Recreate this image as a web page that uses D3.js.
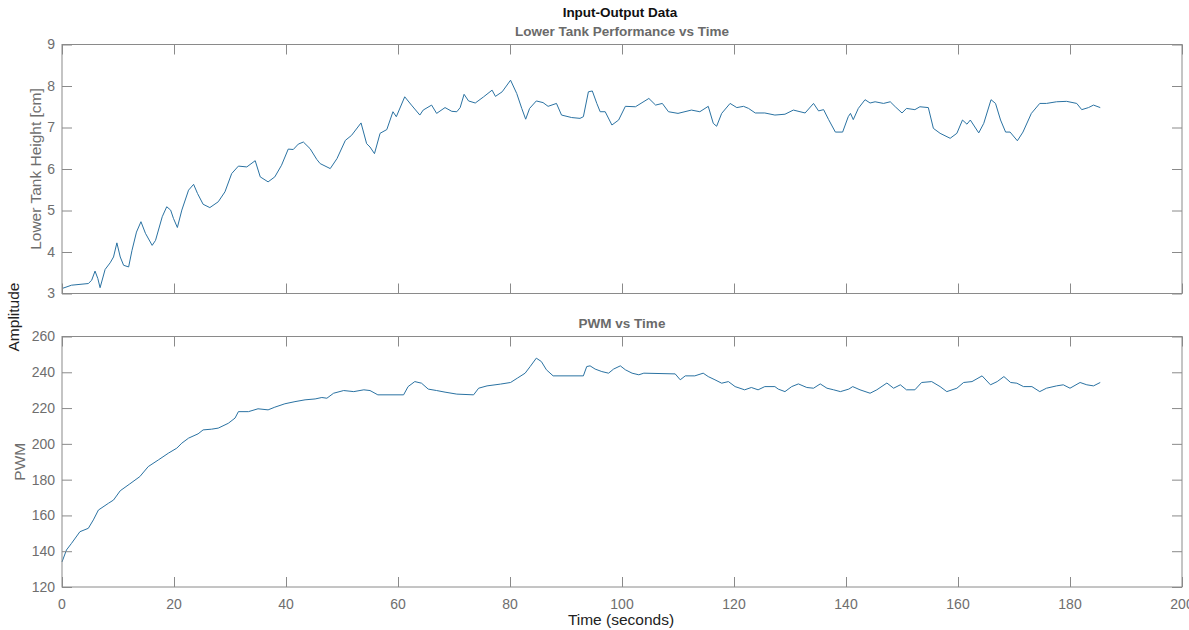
<!DOCTYPE html>
<html>
<head>
<meta charset="utf-8">
<script src="https://cdn.jsdelivr.net/npm/d3@7"></script>
<style>
  html, body { margin: 0; padding: 0; background: #fff; }
  svg { display: block; font-family: "Liberation Sans", Arial, Helvetica, sans-serif; }
</style>
</head>
<body>
<svg id="chart" width="1189" height="630"></svg>
<script>
// Lower tank level recording (seconds, cm)
const levelTime = [0,1.7,4.7,5.3,5.9,6.4,6.8,7.7,8.6,9.2,9.8,10.4,11.0,11.9,12.5,13.3,14.1,14.9,16.1,16.7,17.9,18.7,19.4,19.9,20.6,21.4,22.6,23.5,24.2,25.2,26.4,27.9,29.1,30.3,31.5,33.0,34.5,35.4,36.8,38.0,39.2,40.4,41.3,42.2,43.1,44.3,45.5,46.1,47.9,49.1,50.6,51.7,53.4,54.4,55.0,55.8,56.8,58.0,59.1,59.7,61.2,62.4,63.9,64.5,66.0,66.9,68.4,69.6,70.5,71.1,71.8,72.6,73.8,75.3,76.8,77.4,78.6,80.1,81.2,82.1,82.8,83.5,84.7,85.9,86.8,88.3,89.2,91.0,92.5,93.1,94.0,94.7,95.5,96.1,97.0,98.2,99.4,100.6,102.4,104.8,106.0,107.2,108.3,110.0,112.4,113.9,115.4,116.3,116.9,117.8,119.3,120.5,121.7,122.6,123.8,125.5,127.3,129.1,130.6,132.7,134.2,135.1,136.0,136.9,138.1,139.4,140.4,140.8,141.3,142.2,143.4,144.3,145.2,146.7,147.9,148.8,150.0,150.8,152.3,153.2,154.7,155.6,156.8,158.6,159.8,160.8,161.6,162.2,163.7,164.6,165.9,166.7,167.6,168.5,169.3,170.6,171.6,173.1,174.6,175.8,177.6,179.4,181.2,182.1,183.3,184.2,185.4];
const levelCm = [3.12,3.20,3.24,3.32,3.54,3.36,3.14,3.58,3.74,3.88,4.22,3.88,3.68,3.64,4.04,4.48,4.73,4.45,4.16,4.28,4.85,5.09,5.01,4.81,4.59,5.01,5.49,5.63,5.41,5.15,5.07,5.21,5.45,5.89,6.07,6.05,6.20,5.81,5.69,5.81,6.09,6.48,6.47,6.60,6.65,6.49,6.23,6.13,6.01,6.25,6.69,6.81,7.11,6.61,6.53,6.37,6.86,6.95,7.38,7.26,7.74,7.54,7.30,7.42,7.54,7.34,7.48,7.39,7.38,7.48,7.80,7.64,7.59,7.74,7.90,7.75,7.86,8.14,7.82,7.46,7.20,7.46,7.64,7.60,7.51,7.58,7.30,7.24,7.22,7.26,7.86,7.88,7.58,7.38,7.38,7.06,7.18,7.51,7.50,7.70,7.54,7.58,7.38,7.34,7.42,7.38,7.51,7.10,7.03,7.34,7.58,7.48,7.51,7.46,7.35,7.35,7.30,7.32,7.42,7.35,7.58,7.40,7.43,7.19,6.89,6.89,7.26,7.34,7.19,7.46,7.67,7.59,7.62,7.58,7.62,7.50,7.35,7.46,7.43,7.50,7.48,6.98,6.86,6.74,6.86,7.18,7.08,7.18,6.87,7.10,7.67,7.58,7.18,6.89,6.89,6.68,6.89,7.34,7.58,7.58,7.62,7.63,7.58,7.43,7.48,7.54,7.48];

// Pump drive signal (seconds, PWM counts)
const pwmTime = [0,0.8,1.7,3.2,4.7,5.6,6.5,8.3,9.2,10.4,12.1,13.9,15.4,17.2,19.0,20.5,21.4,22.6,24.3,25.2,26.7,27.9,29.7,30.9,31.5,33.3,35.0,36.8,38.0,39.8,41.6,43.4,45.2,46.4,47.3,48.5,50.3,52.1,53.9,55.0,56.4,61.0,61.8,63.0,64.2,65.4,66.9,68.4,70.5,73.5,74.4,75.9,78.3,80.1,81.3,82.7,83.6,84.7,85.6,86.5,87.7,93.1,93.7,94.3,95.2,96.4,97.6,98.5,99.7,100.6,101.8,103.0,103.9,109.5,110.4,111.3,113.0,114.5,115.4,116.6,117.8,119.0,120.2,121.9,123.1,124.3,125.5,127.3,127.9,129.1,130.3,131.5,133.0,134.2,135.4,136.6,137.8,139.0,140.5,141.2,142.5,144.3,145.5,147.3,148.5,149.7,150.8,152.3,153.5,155.3,156.8,158.0,159.8,161.0,162.5,164.3,165.8,167.0,168.2,169.4,170.5,171.7,173.2,174.6,175.8,177.6,178.8,180.0,181.8,183.0,184.2,185.4];
const pwmValue = [134,140.7,144.4,150.9,152.8,157.5,163.0,166.8,168.6,173.8,177.6,181.7,187.3,191.0,194.8,197.6,200.4,203.2,205.6,207.8,208.2,208.8,211.5,214.4,218.0,218.0,219.6,219.0,220.5,222.4,223.6,224.6,225.1,225.9,225.5,228.3,229.8,229.2,230.2,229.8,227.4,227.4,232.0,234.8,233.9,230.6,229.8,228.9,227.8,227.4,231.1,232.4,233.4,234.3,236.7,239.5,243.2,247.9,246.0,241.4,238.0,238.0,243.2,243.6,241.8,240.4,239.5,241.8,243.6,241.4,239.5,238.6,239.5,239.1,235.8,238.0,238.0,239.5,237.6,235.8,233.9,234.8,232.0,230.2,231.5,230.2,232.0,232.0,230.6,229.2,232.0,233.5,231.5,231.1,233.5,231.1,230.2,229.2,230.6,232.0,230.2,228.3,230.2,234.0,231.1,233.0,230.2,230.2,234.3,234.8,232.0,229.2,231.1,234.3,234.8,238.0,233.0,234.8,237.6,234.3,233.9,232.0,232.0,229.2,231.1,232.4,233.0,231.1,234.3,233.0,232.4,234.3];

// Axis ticks
const timeTicks = [0,20,40,60,80,100,120,140,160,180,200];
const levelTicks = [3,4,5,6,7,8,9];
const pwmTicks = [120,140,160,180,200,220,240,260];

const svg = d3.select("#chart");
const left = 62, right = 1182;
const tickLen = 10;
const axisColor = "#8a8a8a";
const labelColor = "#6e6e6e";
const lineColor = "#2a72a2";

const x = d3.scaleLinear().domain([0, 200]).range([left, right]);

function panel(opts) {
  const y = d3.scaleLinear().domain(opts.domain).range([opts.bottom, opts.top]);
  const g = svg.append("g");

  // data line
  const pts = opts.t.map((t, i) => [t, opts.v[i]]);
  g.append("path")
    .datum(pts)
    .attr("fill", "none")
    .attr("stroke", lineColor)
    .attr("stroke-width", 1)
    .attr("stroke-linejoin", "round")
    .attr("d", d3.line().x(d => x(d[0])).y(d => y(d[1])));

  // inward ticks on all four sides
  const bottomAxis = d3.axisTop(x).tickValues(timeTicks).tickSize(tickLen).tickFormat("");
  const topAxis = d3.axisBottom(x).tickValues(timeTicks).tickSize(tickLen).tickFormat("");
  const leftAxis = d3.axisRight(y).tickValues(opts.ticks).tickSize(tickLen).tickFormat("");
  const rightAxis = d3.axisLeft(y).tickValues(opts.ticks).tickSize(tickLen).tickFormat("");

  [
    g.append("g").attr("transform", `translate(0,${opts.bottom})`).call(bottomAxis),
    g.append("g").attr("transform", `translate(0,${opts.top})`).call(topAxis),
    g.append("g").attr("transform", `translate(${left},0)`).call(leftAxis),
    g.append("g").attr("transform", `translate(${right},0)`).call(rightAxis)
  ].forEach(a => {
    a.select(".domain").remove();
    a.selectAll("line").attr("stroke", axisColor);
  });

  // box
  g.append("rect")
    .attr("x", left).attr("y", opts.top)
    .attr("width", right - left).attr("height", opts.bottom - opts.top)
    .attr("fill", "none").attr("stroke", axisColor).attr("stroke-width", 1);

  // y tick labels
  g.selectAll(".ylab").data(opts.ticks).enter().append("text")
    .attr("x", left - 7).attr("y", d => y(d)).attr("dy", "0.35em")
    .attr("text-anchor", "end").attr("font-size", 14).attr("fill", labelColor)
    .text(d => d);

  // subplot title
  g.append("text")
    .attr("x", (left + right) / 2).attr("y", opts.top - 9)
    .attr("text-anchor", "middle").attr("font-size", 13.5).attr("font-weight", "bold")
    .attr("fill", "#6a6a6a").text(opts.title);

  // y label
  g.append("text")
    .attr("transform", `translate(${opts.ylabX},${(opts.top + opts.bottom) / 2}) rotate(-90)`)
    .attr("text-anchor", "middle").attr("font-size", 15.5).attr("fill", labelColor)
    .text(opts.ylabel);

  return y;
}

panel({
  top: 44.5, bottom: 293.5, domain: [3, 9], ticks: levelTicks,
  t: levelTime, v: levelCm,
  title: "Lower Tank Performance vs Time",
  ylabel: "Lower Tank Height [cm]", ylabX: 41
});

panel({
  top: 336.5, bottom: 587, domain: [120, 260], ticks: pwmTicks,
  t: pwmTime, v: pwmValue,
  title: "PWM vs Time",
  ylabel: "PWM", ylabX: 25
});

// x tick labels under the lower panel
svg.selectAll(".xlab").data(timeTicks).enter().append("text")
  .attr("x", d => x(d)).attr("y", 609)
  .attr("text-anchor", "middle").attr("font-size", 14).attr("fill", labelColor)
  .text(d => d);

// figure-level labels
svg.append("text").attr("x", 620).attr("y", 17)
  .attr("text-anchor", "middle").attr("font-size", 13.5).attr("font-weight", "bold")
  .attr("fill", "#111").text("Input-Output Data");

svg.append("text").attr("x", 621).attr("y", 625)
  .attr("text-anchor", "middle").attr("font-size", 15.5).attr("fill", "#222")
  .text("Time (seconds)");

svg.append("text")
  .attr("transform", "translate(19,317) rotate(-90)")
  .attr("text-anchor", "middle").attr("font-size", 15.5).attr("fill", "#222")
  .text("Amplitude");
</script>
</body>
</html>
